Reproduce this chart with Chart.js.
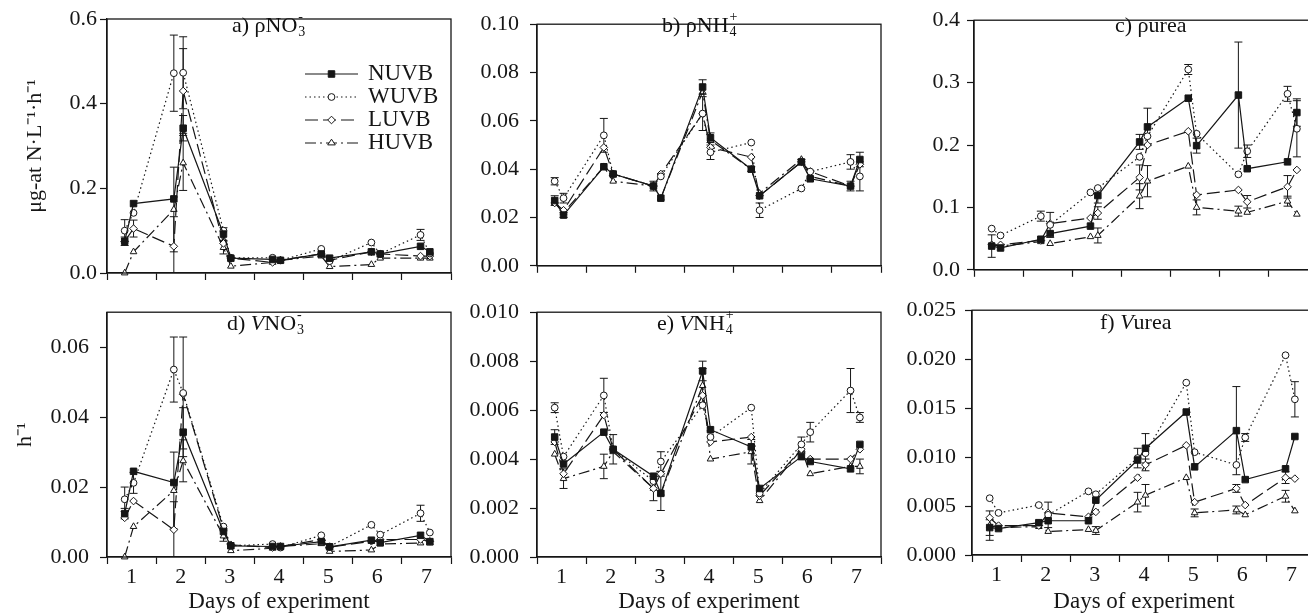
<!DOCTYPE html>
<html>
<head>
<meta charset="utf-8">
<script src="https://cdn.jsdelivr.net/npm/chart.js@4.4.0/dist/chart.umd.min.js"></script>
<style>
  html, body { margin: 0; padding: 0; background: #fff; overflow: hidden; width: 1308px; height: 614px; }
  canvas { position: absolute; }
  .ttl { position: absolute; font-family: "Liberation Serif", serif; font-size: 22px; color: #111; white-space: nowrap; line-height: 22px; }
  .ss { position: relative; display: inline-block; width: 9px; height: 1px; }
  .ss .u, .ss .d { position: absolute; left: 1px; font-size: 14px; line-height: 14px; }
  .ss .u { top: -21px; }
  .ss .d { top: -6px; }
</style>
</head>
<body>

<canvas id="pa"></canvas>
<canvas id="pb"></canvas>
<canvas id="pc"></canvas>
<canvas id="pd"></canvas>
<canvas id="pe"></canvas>
<canvas id="pf"></canvas>

<div class="ttl" style="left:232px;top:14px">a) ρNO<span class="ss"><span class="u">-</span><span class="d">3</span></span></div>
<div class="ttl" style="left:662px;top:14px">b) ρNH<span class="ss"><span class="u">+</span><span class="d">4</span></span></div>
<div class="ttl" style="left:1115px;top:14px">c) ρurea</div>
<div class="ttl" style="left:227px;top:312px">d) <i>V</i>NO<span class="ss"><span class="u">-</span><span class="d">3</span></span></div>
<div class="ttl" style="left:657px;top:312px">e) <i>V</i>NH<span class="ss"><span class="u">+</span><span class="d">4</span></span></div>
<div class="ttl" style="left:1100px;top:311px">f) <i>V</i>urea</div>

<script>
// sampling positions inside each day (x axis runs 0..7, one unit per day)
const sampleDays = [0.36, 0.54, 1.36, 1.55, 2.37, 2.52, 3.37, 3.53, 4.36, 4.53, 5.38, 5.56, 6.38, 6.57];
const dayTicks = [0, 1, 2, 3, 4, 5, 6, 7];
const dayLabels = ['1', '2', '3', '4', '5', '6', '7'];
const seriesNames = ['NUVB', 'WUVB', 'LUVB', 'HUVB'];

// a) rho NO3-
const aN = [0.075, 0.164, 0.175, 0.342, 0.092, 0.035, 0.032, 0.030, 0.045, 0.035, 0.050, 0.045, 0.063, 0.050];
const aW = [0.100, 0.142, 0.472, 0.473, 0.100, 0.036, 0.036, 0.030, 0.057, 0.028, 0.072, 0.045, 0.090, 0.046];
const aL = [0.075, 0.105, 0.063, 0.430, 0.070, 0.035, 0.025, 0.030, 0.045, 0.030, 0.050, 0.045, 0.040, 0.040];
const aH = [0.000, 0.050, 0.150, 0.260, 0.060, 0.016, 0.025, 0.030, 0.040, 0.015, 0.020, 0.035, 0.035, 0.035];
const aErrN = [0.010, 0, 0, 0.030, 0.015, 0, 0, 0, 0, 0, 0, 0, 0, 0];
const aErrW = [0.026, 0, 0.090, 0.085, 0, 0, 0, 0, 0, 0, 0, 0, 0.013, 0];
const aErrL = [0, 0.020, 0.070, 0.100, 0, 0, 0, 0, 0, 0, 0, 0, 0, 0];
const aErrH = [0, 0, 0.100, 0.065, 0.015, 0, 0, 0, 0, 0, 0, 0, 0, 0];
const aTicks = [0, 0.2, 0.4, 0.6];

// b) rho NH4+
const bN = [0.027, 0.021, 0.041, 0.038, 0.033, 0.028, 0.074, 0.053, 0.040, 0.029, 0.043, 0.036, 0.033, 0.044];
const bW = [0.035, 0.028, 0.054, 0.038, 0.033, 0.037, 0.063, 0.047, 0.051, 0.023, 0.032, 0.039, 0.043, 0.037];
const bL = [0.026, 0.023, 0.049, 0.038, 0.033, 0.038, 0.063, 0.049, 0.045, 0.029, 0.043, 0.039, 0.033, 0.042];
const bH = [0.026, 0.022, 0.041, 0.035, 0.033, 0.028, 0.072, 0.052, 0.040, 0.030, 0.044, 0.037, 0.033, 0.043];
const bErrN = [0.002, 0.001, 0, 0, 0.002, 0, 0.003, 0.002, 0.001, 0, 0.001, 0, 0.002, 0.003];
const bErrW = [0.0015, 0.002, 0.007, 0, 0, 0, 0.007, 0.003, 0, 0.003, 0, 0, 0.003, 0.006];
const bErrL = [0, 0, 0, 0, 0, 0, 0, 0, 0, 0, 0, 0, 0, 0];
const bErrH = [0, 0, 0, 0, 0, 0, 0, 0, 0, 0, 0, 0, 0, 0];
const bTicks = [0, 0.02, 0.04, 0.06, 0.08, 0.10];

// c) rho urea
const cN = [0.038, 0.035, 0.049, 0.058, 0.070, 0.119, 0.205, 0.229, 0.275, 0.199, 0.280, 0.162, 0.173, 0.252];
const cW = [0.066, 0.055, 0.086, 0.072, 0.124, 0.131, 0.181, 0.214, 0.321, 0.218, 0.153, 0.190, 0.282, 0.226];
const cL = [0.040, 0.040, 0.047, 0.074, 0.083, 0.091, 0.148, 0.200, 0.222, 0.120, 0.128, 0.109, 0.133, 0.160];
const cH = [0.040, 0.038, 0.045, 0.042, 0.053, 0.055, 0.118, 0.142, 0.166, 0.100, 0.094, 0.092, 0.110, 0.089];
const cErrN = [0.018, 0, 0, 0, 0, 0.012, 0.012, 0.030, 0, 0.012, 0.085, 0, 0, 0.022];
const cErrW = [0, 0, 0.008, 0.020, 0, 0, 0, 0, 0.008, 0, 0, 0.010, 0.012, 0.045];
const cErrL = [0, 0, 0, 0, 0, 0.010, 0.020, 0, 0, 0, 0, 0.010, 0.018, 0];
const cErrH = [0, 0, 0, 0, 0, 0.012, 0.020, 0.025, 0, 0.012, 0.008, 0, 0.008, 0];
const cTicks = [0, 0.1, 0.2, 0.3, 0.4];

// d) V NO3-
const dN = [0.0124, 0.0245, 0.0213, 0.0357, 0.0073, 0.0032, 0.0030, 0.0030, 0.0044, 0.0029, 0.0048, 0.0041, 0.0062, 0.0044];
const dW = [0.0165, 0.0212, 0.0536, 0.0469, 0.0087, 0.0032, 0.0037, 0.0027, 0.0062, 0.0030, 0.0092, 0.0064, 0.0125, 0.0070];
const dL = [0.0112, 0.0160, 0.0078, 0.0465, 0.0080, 0.0035, 0.0027, 0.0030, 0.0050, 0.0028, 0.0045, 0.0050, 0.0050, 0.0045];
const dH = [0.0000, 0.0087, 0.0190, 0.0275, 0.0060, 0.0018, 0.0025, 0.0030, 0.0038, 0.0016, 0.0020, 0.0037, 0.0040, 0.0040];
const dErrN = [0.0015, 0, 0, 0.0070, 0, 0, 0, 0, 0, 0, 0, 0, 0, 0];
const dErrW = [0.0035, 0.0030, 0.0093, 0.0160, 0, 0, 0, 0, 0, 0, 0, 0, 0.0023, 0];
const dErrL = [0, 0, 0.0080, 0, 0, 0, 0, 0, 0, 0, 0, 0, 0, 0];
const dErrH = [0, 0, 0.0110, 0.0060, 0.0015, 0, 0, 0, 0, 0, 0, 0, 0, 0];
const dTicks = [0, 0.02, 0.04, 0.06];

// e) V NH4+
const eN = [0.0049, 0.0038, 0.0051, 0.0044, 0.0033, 0.0026, 0.0076, 0.0052, 0.0045, 0.0028, 0.0041, 0.0039, 0.0036, 0.0046];
const eW = [0.0061, 0.0041, 0.0066, 0.0044, 0.0031, 0.0039, 0.0062, 0.0049, 0.0061, 0.0026, 0.0046, 0.0051, 0.0068, 0.0057];
const eL = [0.0047, 0.0034, 0.0058, 0.0044, 0.0028, 0.0034, 0.0066, 0.0047, 0.0049, 0.0025, 0.0044, 0.0040, 0.0040, 0.0044];
const eH = [0.0042, 0.0032, 0.0037, 0.0043, 0.0028, 0.0026, 0.0070, 0.0040, 0.0043, 0.0023, 0.0044, 0.0034, 0.0037, 0.0037];
const eErrN = [0.0003, 0, 0, 0.0006, 0, 0, 0.0004, 0, 0, 0, 0, 0, 0, 0];
const eErrW = [0.0002, 0, 0.0007, 0, 0, 0.0004, 0, 0, 0, 0, 0.0003, 0.0004, 0.0009, 0.0002];
const eErrL = [0, 0, 0, 0, 0, 0, 0, 0, 0, 0, 0, 0, 0, 0];
const eErrH = [0, 0.0004, 0.0005, 0, 0.0005, 0.0007, 0.0007, 0, 0.0005, 0, 0, 0, 0, 0.0003];
const eTicks = [0, 0.002, 0.004, 0.006, 0.008, 0.010];

// f) V urea
const fN = [0.0028, 0.0027, 0.0033, 0.0035, 0.0035, 0.0056, 0.0097, 0.0109, 0.0146, 0.0090, 0.0127, 0.0077, 0.0088, 0.0121];
const fW = [0.0058, 0.0043, 0.0051, 0.0041, 0.0065, 0.0062, 0.0099, 0.0104, 0.0176, 0.0105, 0.0092, 0.0120, 0.0204, 0.0159];
const fL = [0.0038, 0.0030, 0.0030, 0.0043, 0.0039, 0.0044, 0.0079, 0.0092, 0.0112, 0.0054, 0.0068, 0.0051, 0.0079, 0.0078];
const fH = [0.0030, 0.0028, 0.0029, 0.0024, 0.0026, 0.0025, 0.0054, 0.0061, 0.0079, 0.0043, 0.0046, 0.0041, 0.0060, 0.0045];
const fErrN = [0.0008, 0, 0, 0, 0, 0, 0, 0.0015, 0, 0, 0.0045, 0, 0, 0];
const fErrW = [0, 0, 0, 0.0013, 0, 0, 0.0010, 0, 0, 0, 0, 0.0004, 0, 0.0018];
const fErrL = [0, 0, 0, 0, 0, 0, 0, 0.0006, 0, 0, 0.0004, 0, 0.0006, 0];
const fErrH = [0.0015, 0, 0, 0, 0, 0.0004, 0.0010, 0.0011, 0, 0.0004, 0.0004, 0, 0.0006, 0];
const fTicks = [0, 0.005, 0.010, 0.015, 0.020, 0.025];

const ink = '#161616';
const serif = '"Liberation Serif", "Times New Roman", serif';

const seriesStyle = [
  { pointStyle: 'rect',     radius: 4.6, filled: true,  dash: [] },
  { pointStyle: 'circle',   radius: 3.4, filled: false, dash: [1.5, 3] },
  { pointStyle: 'rectRot',  radius: 3.8, filled: false, dash: [13, 5] },
  { pointStyle: 'triangle', radius: 3.8, filled: false, dash: [11, 4, 2, 4] },
];

const panels = [
  { id: 'pa', vals: [aN, aW, aL, aH], errs: [aErrN, aErrW, aErrL, aErrH], yTicks: aTicks, yMax: 0.6, dec: 1,
    box: { left: 0, top: 0, w: 462, h: 290 }, plot: { l: 107, t: 19, r: 451, b: 273 }, yPad: 3,
    yTitle: 'μg-at N·L⁻¹·h⁻¹', yTitlePad: 22, xText: false, legend: true },
  { id: 'pb', vals: [bN, bW, bL, bH], errs: [bErrN, bErrW, bErrL, bErrH], yTicks: bTicks, yMax: 0.10, dec: 2,
    box: { left: 458, top: 0, w: 432, h: 290 }, plot: { l: 537, t: 20, r: 881, b: 273 }, yPad: 11,
    yTitle: '', xText: false },
  { id: 'pc', vals: [cN, cW, cL, cH], errs: [cErrN, cErrW, cErrL, cErrH], yTicks: cTicks, yMax: 0.4, dec: 1,
    box: { left: 890, top: 0, w: 440, h: 290 }, plot: { l: 974, t: 20, r: 1318, b: 272 }, yPad: 7,
    yTitle: '', xText: false },
  { id: 'pd', vals: [dN, dW, dL, dH], errs: [dErrN, dErrW, dErrL, dErrH], yTicks: dTicks, yMax: 0.07, dec: 2,
    box: { left: 0, top: 288, w: 462, h: 328 }, plot: { l: 107, t: 303, r: 451, b: 557 }, yPad: 11,
    yTitle: 'h⁻¹', yTitlePad: 12, xText: true },
  { id: 'pe', vals: [eN, eW, eL, eH], errs: [eErrN, eErrW, eErrL, eErrH], yTicks: eTicks, yMax: 0.010, dec: 3,
    box: { left: 458, top: 288, w: 432, h: 328 }, plot: { l: 537, t: 304, r: 881, b: 557 }, yPad: 11,
    yTitle: '', xText: true },
  { id: 'pf', vals: [fN, fW, fL, fH], errs: [fErrN, fErrW, fErrL, fErrH], yTicks: fTicks, yMax: 0.025, dec: 3,
    box: { left: 890, top: 288, w: 440, h: 328 }, plot: { l: 972, t: 303, r: 1316, b: 555 }, yPad: 9,
    yTitle: '', xText: true },
];

function drawMarker(ctx, style, r, x, y, filled) {
  ctx.beginPath();
  if (style === 'rect') {
    const s = r * Math.SQRT1_2;
    ctx.rect(x - s, y - s, 2 * s, 2 * s);
  } else if (style === 'circle') {
    ctx.arc(x, y, r, 0, Math.PI * 2);
  } else if (style === 'rectRot') {
    ctx.moveTo(x, y - r); ctx.lineTo(x + r, y); ctx.lineTo(x, y + r); ctx.lineTo(x - r, y); ctx.closePath();
  } else {
    const h = r * 1.5;
    ctx.moveTo(x, y - h * 2 / 3); ctx.lineTo(x + r, y + h / 3); ctx.lineTo(x - r, y + h / 3); ctx.closePath();
  }
  ctx.fillStyle = filled ? ink : '#fff';
  ctx.fill();
  ctx.lineWidth = 1;
  ctx.strokeStyle = ink;
  ctx.stroke();
}

// box around the plot area
const framePlugin = {
  id: 'frame',
  afterDraw(chart) {
    const { ctx, chartArea: a } = chart;
    ctx.save();
    ctx.strokeStyle = ink;
    ctx.lineWidth = 1.3;
    ctx.strokeRect(a.left, a.top, a.right - a.left, a.bottom - a.top);
    ctx.restore();
  }
};

// vertical error bars from each dataset's errors array
const errorBarPlugin = {
  id: 'errorBars',
  beforeDatasetsDraw(chart) {
    const { ctx, scales: { y } } = chart;
    ctx.save();
    ctx.strokeStyle = ink;
    ctx.lineWidth = 1;
    chart.data.datasets.forEach((ds, i) => {
      const meta = chart.getDatasetMeta(i);
      (ds.errors || []).forEach((e, j) => {
        if (!e) return;
        const pt = meta.data[j];
        const v = ds.data[j].y;
        const top = y.getPixelForValue(v + e);
        const bot = Math.min(y.getPixelForValue(Math.max(v - e, 0)), chart.chartArea.bottom);
        ctx.beginPath();
        ctx.moveTo(pt.x, top); ctx.lineTo(pt.x, bot);
        ctx.moveTo(pt.x - 4, top); ctx.lineTo(pt.x + 4, top);
        if (v - e > 0) { ctx.moveTo(pt.x - 4, bot); ctx.lineTo(pt.x + 4, bot); }
        ctx.stroke();
      });
    });
    ctx.restore();
  }
};

// legend drawn inside panel a
const insetLegend = {
  id: 'insetLegend',
  afterDraw(chart, args, opts) {
    if (!opts.show) return;
    const ctx = chart.ctx;
    ctx.save();
    chart.data.datasets.forEach((ds, i) => {
      const y = opts.y + i * opts.gap;
      const st = seriesStyle[i];
      ctx.strokeStyle = ink;
      ctx.lineWidth = 1.2;
      ctx.setLineDash(st.dash);
      ctx.beginPath();
      ctx.moveTo(opts.x, y);
      ctx.lineTo(opts.x + opts.w, y);
      ctx.stroke();
      ctx.setLineDash([]);
      drawMarker(ctx, st.pointStyle, st.radius, opts.x + opts.w / 2, y, st.filled);
      ctx.fillStyle = ink;
      ctx.font = '23px ' + serif;
      ctx.textBaseline = 'middle';
      ctx.textAlign = 'left';
      ctx.fillText(ds.label, opts.x + opts.w + 10, y);
    });
    ctx.restore();
  }
};

panels.forEach(p => {
  const cv = document.getElementById(p.id);
  cv.width = p.box.w;
  cv.height = p.box.h;
  cv.style.left = p.box.left + 'px';
  cv.style.top = p.box.top + 'px';
  cv.style.width = p.box.w + 'px';
  cv.style.height = p.box.h + 'px';

  const dayW = (p.plot.r - p.plot.l) / 7;
  const font = { family: serif, size: 22 };

  const datasets = seriesNames.map((name, i) => {
    const st = seriesStyle[i];
    return {
      label: name,
      data: sampleDays.map((d, j) => ({ x: d, y: p.vals[i][j] })),
      errors: p.errs[i],
      borderColor: ink,
      borderWidth: 1.2,
      borderDash: st.dash,
      pointStyle: st.pointStyle,
      pointRadius: st.radius,
      pointBorderWidth: 1,
      pointBorderColor: ink,
      pointBackgroundColor: st.filled ? ink : '#fff',
      tension: 0,
      clip: 8,
    };
  });

  new Chart(cv, {
    type: 'line',
    data: { datasets },
    plugins: [framePlugin, errorBarPlugin, insetLegend],
    options: {
      responsive: false,
      animation: false,
      devicePixelRatio: 1,
      layout: {
        padding: {
          top: p.plot.t - p.box.top,
          right: p.box.left + p.box.w - p.plot.r,
          bottom: 0,
          left: 0,
        }
      },
      plugins: {
        legend: { display: false },
        tooltip: { enabled: false },
        insetLegend: { show: !!p.legend, x: 305, y: 74, w: 53, gap: 23 },
      },
      scales: {
        x: {
          type: 'linear',
          min: 0,
          max: 7,
          afterBuildTicks: s => { s.ticks = dayTicks.map(v => ({ value: v })); },
          afterFit: s => { s.height = p.box.top + p.box.h - p.plot.b; },
          grid: { drawOnChartArea: false, drawTicks: true, tickLength: 7, tickWidth: 1.2, tickColor: ink },
          border: { display: true, color: ink, width: 1.3 },
          ticks: {
            autoSkip: false,
            maxRotation: 0,
            padding: 0,
            labelOffset: dayW / 2,
            color: ink,
            font,
            callback: (v, i) => (p.xText && i < dayLabels.length) ? dayLabels[i] : '',
          },
          title: { display: p.xText, text: 'Days of experiment', color: ink, font: { family: serif, size: 23 }, padding: { top: 0, bottom: 0 } },
        },
        y: {
          min: 0,
          max: p.yMax,
          afterBuildTicks: s => { s.ticks = p.yTicks.map(v => ({ value: v })); },
          afterFit: s => { s.width = p.plot.l - p.box.left; },
          grid: { drawOnChartArea: false, drawTicks: true, tickLength: 7, tickWidth: 1.2, tickColor: ink },
          border: { display: true, color: ink, width: 1.3 },
          ticks: {
            padding: p.yPad,
            color: ink,
            font,
            callback: v => v.toFixed(p.dec),
          },
          title: { display: !!p.yTitle, text: p.yTitle, color: ink, font, padding: { top: p.yTitlePad || 0, bottom: 0 } },
        }
      }
    }
  });
});
</script>
</body>
</html>
